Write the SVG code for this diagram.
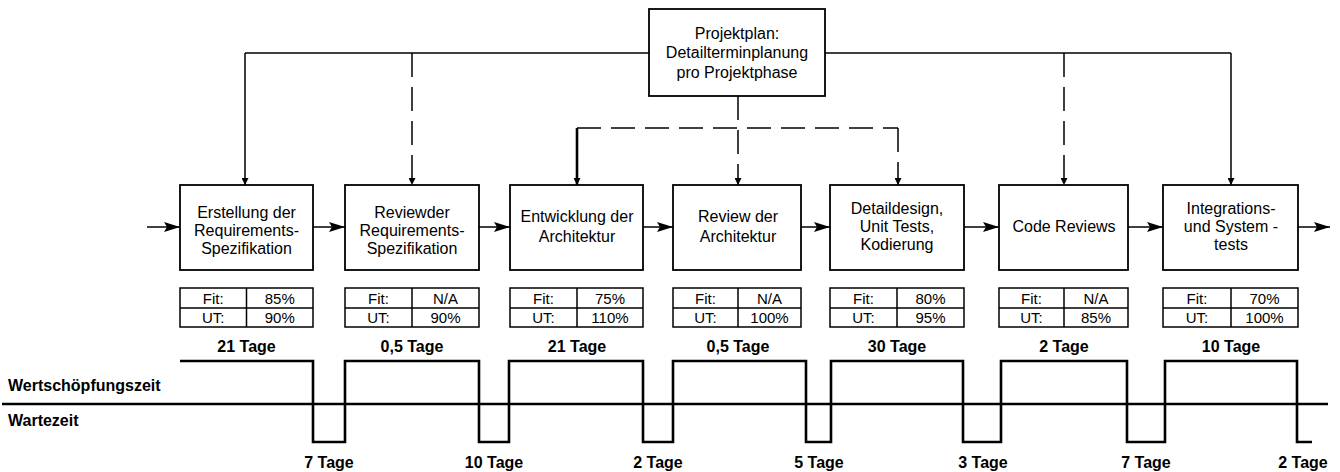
<svg xmlns="http://www.w3.org/2000/svg" width="1340" height="472" viewBox="0 0 1340 472">
<style>
.box{fill:#fff;stroke:#000;stroke-width:1.8}
.cell{fill:#fff;stroke:#000;stroke-width:1.5}
.sep{stroke:#000;stroke-width:1.5}
.t{font-family:"Liberation Sans",Arial,sans-serif;font-size:16px;text-anchor:middle;fill:#000}
.tb{font-family:"Liberation Sans",Arial,sans-serif;font-size:15px;text-anchor:middle;fill:#000}
.b{font-family:"Liberation Sans",Arial,sans-serif;font-size:16px;font-weight:bold;text-anchor:middle;fill:#000}
.bl{font-family:"Liberation Sans",Arial,sans-serif;font-size:16px;font-weight:bold;fill:#000}
.ln{fill:none;stroke:#000;stroke-width:1.5}
.ds{stroke-dasharray:24 10}
.dn{marker-end:url(#sm)}
.flow{fill:none;stroke:#000;stroke-width:1.5;marker-end:url(#ah)}
.wave{fill:none;stroke:#000;stroke-width:2.6}
</style>
<defs>
<marker id="ah" markerUnits="userSpaceOnUse" markerWidth="16" markerHeight="10" refX="16" refY="5" orient="auto"><path d="M0,0 L16,5 L0,10 L3,5 z" fill="#000"/></marker>
<marker id="sm" markerUnits="userSpaceOnUse" markerWidth="7" markerHeight="7" refX="7" refY="3.5" orient="auto"><path d="M0,0 L7,3.5 L0,7 z" fill="#000"/></marker>
</defs>
<rect width="1340" height="472" fill="#fff"/>

<g id="connectors">
  <path class="ln" d="M649,53 H245"/>
  <path class="ln" d="M825,53 H1231"/>
  <path class="ln dn" d="M245,53 V185"/>
  <path class="ln dn" d="M1231,53 V185"/>
  <path class="ln ds dn" d="M412,53 V185"/>
  <path class="ln ds dn" d="M1064,53 V185"/>
  <path class="ln ds dn" d="M738,96 V185"/>
  <path class="ln ds" d="M577,128 H898"/>
  <path class="ln ds dn" d="M898,128 V185"/>
  <path class="ln dn" style="stroke-width:2.6" d="M577,128 V185"/>
  <path class="flow" d="M147,227 H180"/>
  <path class="flow" d="M313,227 H345"/>
  <path class="flow" d="M479,227 H510"/>
  <path class="flow" d="M643,227 H673"/>
  <path class="flow" d="M801,227 H830"/>
  <path class="flow" d="M964,227 H999"/>
  <path class="flow" d="M1128,227 H1163"/>
  <path class="flow" d="M1298,227 H1330"/>
</g>

<g id="projektplan">
  <rect class="box" x="649" y="9" width="176" height="87"/>
  <text class="t" x="737" y="38.5">Projektplan:</text>
  <text class="t" x="737" y="57.5">Detailterminplanung</text>
  <text class="t" x="737" y="77.5">pro Projektphase</text>
</g>

<g id="phase1">
  <rect class="box" x="180" y="185" width="133" height="85"/>
  <text class="t" x="246.5" y="218">Erstellung der</text>
  <text class="t" x="246.5" y="236">Requirements-</text>
  <text class="t" x="246.5" y="254">Spezifikation</text>
  <rect class="cell" x="180" y="288" width="133" height="39"/>
  <path class="sep" d="M180,308 H313 M246.5,288 V327"/>
  <text class="tb" x="213.25" y="303.5">Fit:</text><text class="tb" x="279.75" y="303.5">85%</text>
  <text class="tb" x="213.25" y="323">UT:</text><text class="tb" x="279.75" y="323">90%</text>
  <text class="b" x="246.5" y="352">21 Tage</text>
</g>

<g id="phase2">
  <rect class="box" x="345" y="185" width="134" height="85"/>
  <text class="t" x="412" y="218">Reviewder</text>
  <text class="t" x="412" y="236">Requirements-</text>
  <text class="t" x="412" y="254">Spezifikation</text>
  <rect class="cell" x="345" y="288" width="134" height="39"/>
  <path class="sep" d="M345,308 H479 M412,288 V327"/>
  <text class="tb" x="378.5" y="303.5">Fit:</text><text class="tb" x="445.5" y="303.5">N/A</text>
  <text class="tb" x="378.5" y="323">UT:</text><text class="tb" x="445.5" y="323">90%</text>
  <text class="b" x="412" y="352">0,5 Tage</text>
</g>

<g id="phase3">
  <rect class="box" x="510" y="185" width="133" height="85"/>
  <text class="t" x="577" y="222">Entwicklung der</text>
  <text class="t" x="577" y="242">Architektur</text>
  <rect class="cell" x="510" y="288" width="133" height="39"/>
  <path class="sep" d="M510,308 H643 M577,288 V327"/>
  <text class="tb" x="543.5" y="303.5">Fit:</text><text class="tb" x="610" y="303.5">75%</text>
  <text class="tb" x="543.5" y="323">UT:</text><text class="tb" x="610" y="323">110%</text>
  <text class="b" x="577" y="352">21 Tage</text>
</g>

<g id="phase4">
  <rect class="box" x="673" y="185" width="128" height="85"/>
  <text class="t" x="738" y="222">Review der</text>
  <text class="t" x="738" y="242">Architektur</text>
  <rect class="cell" x="673" y="288" width="128" height="39"/>
  <path class="sep" d="M673,308 H801 M738,288 V327"/>
  <text class="tb" x="705.5" y="303.5">Fit:</text><text class="tb" x="769.5" y="303.5">N/A</text>
  <text class="tb" x="705.5" y="323">UT:</text><text class="tb" x="769.5" y="323">100%</text>
  <text class="b" x="738" y="352">0,5 Tage</text>
</g>

<g id="phase5">
  <rect class="box" x="830" y="185" width="134" height="85"/>
  <text class="t" x="897" y="214">Detaildesign,</text>
  <text class="t" x="897" y="232">Unit Tests,</text>
  <text class="t" x="897" y="250">Kodierung</text>
  <rect class="cell" x="830" y="288" width="134" height="39"/>
  <path class="sep" d="M830,308 H964 M897,288 V327"/>
  <text class="tb" x="863.5" y="303.5">Fit:</text><text class="tb" x="930.5" y="303.5">80%</text>
  <text class="tb" x="863.5" y="323">UT:</text><text class="tb" x="930.5" y="323">95%</text>
  <text class="b" x="897" y="352">30 Tage</text>
</g>

<g id="phase6">
  <rect class="box" x="999" y="185" width="129" height="85"/>
  <text class="t" x="1064" y="232">Code Reviews</text>
  <rect class="cell" x="999" y="288" width="129" height="39"/>
  <path class="sep" d="M999,308 H1128 M1064,288 V327"/>
  <text class="tb" x="1031.5" y="303.5">Fit:</text><text class="tb" x="1096" y="303.5">N/A</text>
  <text class="tb" x="1031.5" y="323">UT:</text><text class="tb" x="1096" y="323">85%</text>
  <text class="b" x="1064" y="352">2 Tage</text>
</g>

<g id="phase7">
  <rect class="box" x="1163" y="185" width="135" height="85"/>
  <text class="t" x="1231" y="214">Integrations-</text>
  <text class="t" x="1231" y="232">und System -</text>
  <text class="t" x="1231" y="250">tests</text>
  <rect class="cell" x="1163" y="288" width="135" height="39"/>
  <path class="sep" d="M1163,308 H1298 M1231,288 V327"/>
  <text class="tb" x="1197" y="303.5">Fit:</text><text class="tb" x="1264.5" y="303.5">70%</text>
  <text class="tb" x="1197" y="323">UT:</text><text class="tb" x="1264.5" y="323">100%</text>
  <text class="b" x="1231" y="352">10 Tage</text>
</g>

<g id="timeline">
  <path class="wave" d="M2,404 H1328"/>
  <path class="wave" d="M180,361 H313 V442 H345 V361 H479 V442 H509 V361 H643 V442 H673 V361 H806 V442 H831 V361 H963 V442 H1001 V361 H1127 V442 H1165 V361 H1297 V442 H1312"/>
  <text class="bl" x="8" y="391">Wertschöpfungszeit</text>
  <text class="bl" x="8" y="426">Wartezeit</text>
  <text class="b" x="329" y="468">7 Tage</text>
  <text class="b" x="494" y="468">10 Tage</text>
  <text class="b" x="658" y="468">2 Tage</text>
  <text class="b" x="819" y="468">5 Tage</text>
  <text class="b" x="983" y="468">3 Tage</text>
  <text class="b" x="1146" y="468">7 Tage</text>
  <text class="b" x="1303" y="468">2 Tage</text>
</g>
</svg>
